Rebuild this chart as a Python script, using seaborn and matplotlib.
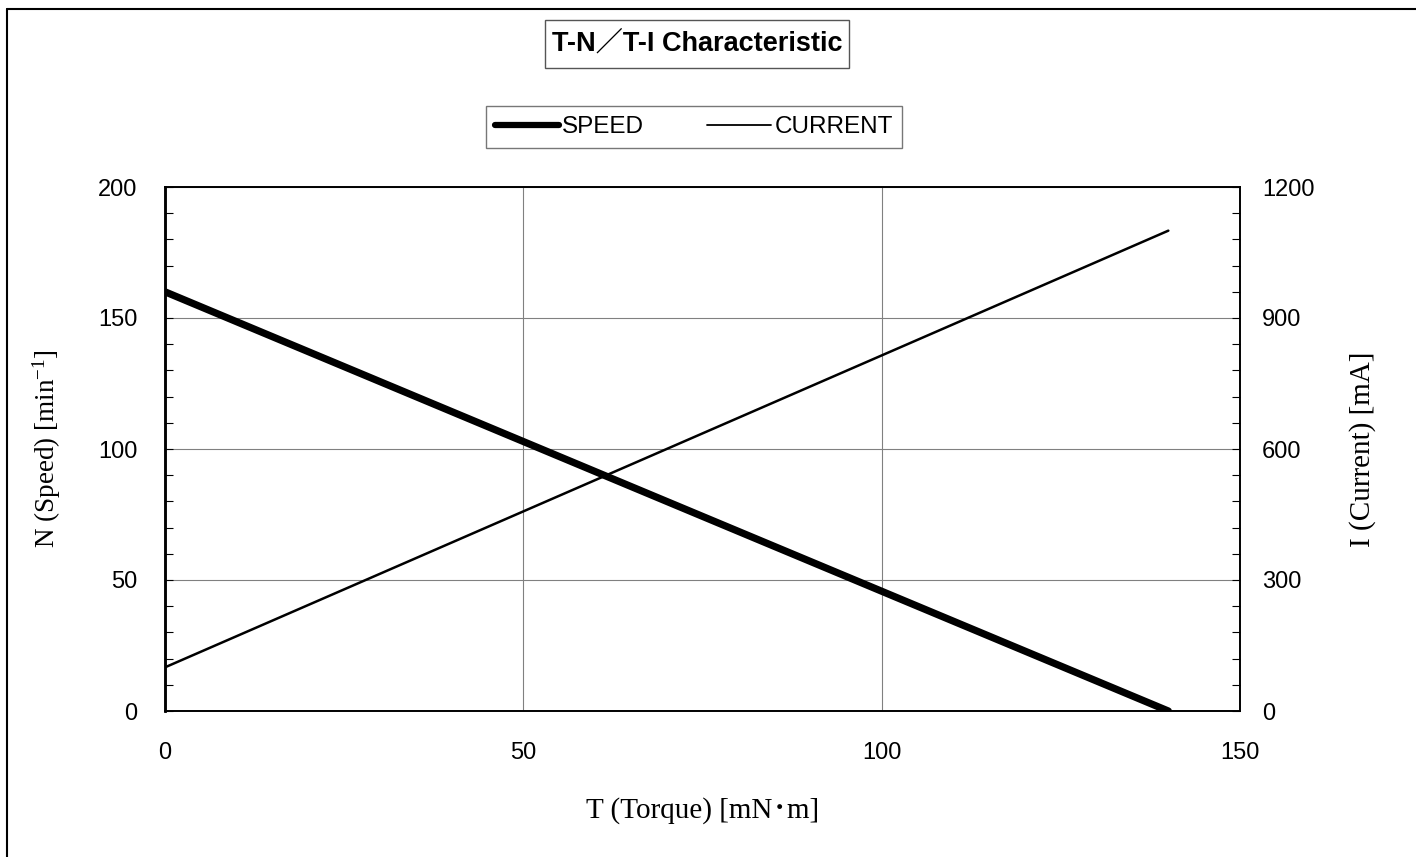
import numpy as np
import pandas as pd
import matplotlib
matplotlib.use("Agg")
import matplotlib.pyplot as plt
from matplotlib.lines import Line2D
from matplotlib.patches import Rectangle
import seaborn as sns

torque = [0, 140]          # mN·m
speed = [160, 0]           # min^-1
current = [100, 1100]      # mA

df = pd.DataFrame({"torque": torque, "speed": speed, "current": current})

sns.set_style("white")
plt.rcParams['font.family'] = ['Liberation Sans', 'Noto Sans CJK JP', 'DejaVu Sans']
plt.rcParams['mathtext.fontset'] = 'custom'
plt.rcParams['mathtext.rm'] = 'Liberation Serif'
plt.rcParams['mathtext.it'] = 'Liberation Serif:italic'
plt.rcParams['text.color'] = 'black'
plt.rcParams['axes.labelcolor'] = 'black'

fig = plt.figure(figsize=(14.16, 8.57), dpi=100)
ax = fig.add_axes([165/1416, 1 - 711/857, 1075/1416, 524/857])
ax2 = ax.twinx()

sns.lineplot(data=df, x="torque", y="speed", ax=ax, color="black", linewidth=5.2)
sns.lineplot(data=df, x="torque", y="current", ax=ax2, color="black", linewidth=1.8)

ax.set_xlim(0, 150)
ax.set_ylim(0, 200)
ax2.set_ylim(0, 1200)
ax.set_xticks([0, 50, 100, 150])
ax.set_xticks(np.arange(0, 151, 10), minor=True)
ax.set_yticks([0, 50, 100, 150, 200])
ax.set_yticks(np.arange(0, 201, 10), minor=True)
ax2.set_yticks([0, 300, 600, 900, 1200])
ax2.set_yticks(np.arange(0, 1201, 60), minor=True)

ax.grid(True, which='major', color='#808080', linewidth=0.8)
ax.tick_params(which='both', direction='in', labelsize=17, colors='black')
ax.tick_params(which='major', length=6, width=0.8)
ax.tick_params(which='minor', length=6, width=0.8)
ax.tick_params(axis='x', pad=22)
ax.tick_params(axis='y', pad=20)
ax2.tick_params(which='both', direction='in', labelsize=17, length=6, width=0.8, pad=16, colors='black')

for a in (ax, ax2):
    for s in a.spines.values():
        s.set_color('black')
        s.set_linewidth(1.2)
ax.spines['left'].set_linewidth(1.8)
ax2.spines['left'].set_linewidth(1.8)

serif = ['Liberation Serif', 'Noto Sans CJK JP']
ax.set_xlabel('T (Torque) [mN･m]', fontsize=21, family=serif)
ax.set_ylabel('N (Speed) [min$^{\\mathrm{-1}}$]', fontsize=19.5, family=serif)
ax2.set_ylabel('I (Current) [mA]', fontsize=21, family=serif)
ax.xaxis.set_label_coords(0.5, -0.165)
ax.yaxis.set_label_coords(-0.095, 0.5)
ax2.yaxis.set_label_coords(1.101, 0.5)

# Titulo em caixa
fig.add_artist(Rectangle((545/1416, 1 - 68/857), 304/1416, 48/857, transform=fig.transFigure,
                         facecolor='white', edgecolor='#555555', linewidth=1))
fig.text(697/1416, 1 - 44/857, 'T-N／T-I Characteristic', ha='center', va='center',
         fontsize=19.5, fontweight='bold', color='black',
         family=['Liberation Sans', 'Noto Sans CJK JP'])

# Legenda
handles = [Line2D([], [], color='black', linewidth=4.5, solid_capstyle='round'),
           Line2D([], [], color='black', linewidth=1.3)]
leg = fig.legend(handles, ['SPEED', 'CURRENT'], loc='center', bbox_to_anchor=(694/1416, 1 - 127/857),
                 ncol=2, fontsize=17.5, frameon=True, fancybox=False, handlelength=2.6,
                 handletextpad=0.15, columnspacing=2.6, borderpad=0.4)
leg.get_frame().set_edgecolor('#555555')
leg.get_frame().set_linewidth(1)

# Moldura parcial (topo e esquerda)
fig.add_artist(Line2D([7/1416, 7/1416], [0, 1 - 9/857], transform=fig.transFigure, color='black', linewidth=1.5))
fig.add_artist(Line2D([7/1416, 1], [1 - 9/857, 1 - 9/857], transform=fig.transFigure, color='black', linewidth=1.5))

fig.savefig('out.png', dpi=100)
